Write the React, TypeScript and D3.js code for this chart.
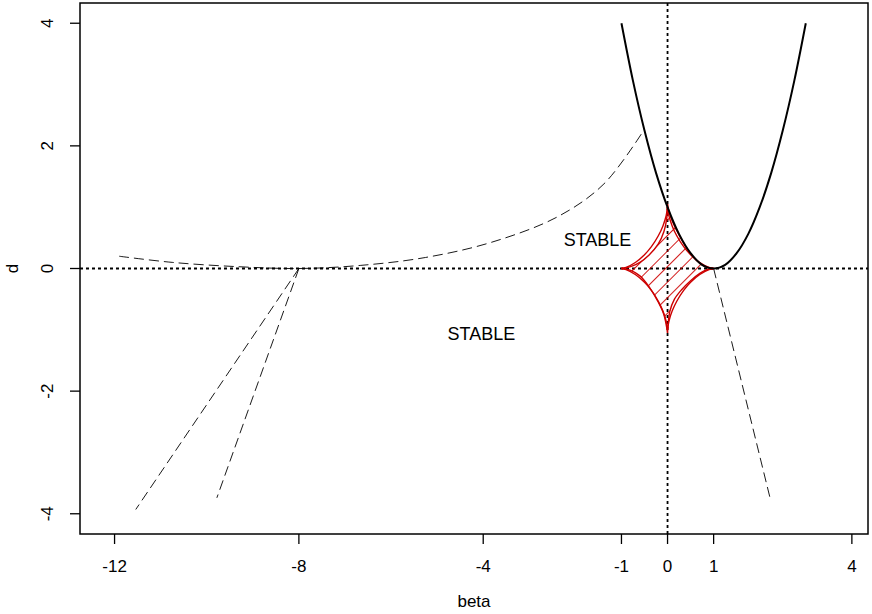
import React from "react";
import * as d3 from "d3";

// parabola d = (beta - 1)^2
const paraBeta = [-1, -0.75, -0.5, -0.25, 0, 0.25, 0.5, 0.75, 1, 1.25, 1.5, 1.75, 2, 2.25, 2.5, 2.75, 3];
const paraD = [4, 3.06, 2.25, 1.56, 1, 0.56, 0.25, 0.06, 0, 0.06, 0.25, 0.56, 1, 1.56, 2.25, 3.06, 4];

// long dashed curve
const dashBeta = [-11.9, -10.75, -9.33, -8, -6.67, -5.25, -3.81, -2.37, -1.38, -0.52];
const dashD = [0.2, 0.1, 0.03, 0, 0.05, 0.18, 0.43, 0.85, 1.38, 2.25];

// straight dashed lines [beta0, d0, beta1, d1]
const rays = [
  [-8, 0, -11.54, -3.93],
  [-8, 0, -9.78, -3.74],
  [1, 0, 2.24, -3.79],
];

// red hatched region, outline (beta, d)
const regionBeta = [-1, -0.8, -0.6, -0.4, -0.2, -0.08, -0.02, 0, 0.02, 0.1, 0.2, 0.35, 0.5, 0.7, 0.85, 1,
  0.85, 0.7, 0.5, 0.3, 0.15, 0.05, 0, -0.08, -0.2, -0.4, -0.6, -0.8, -1];
const regionD = [0, 0.03, 0.1, 0.22, 0.4, 0.6, 0.8, 1.05, 0.96, 0.78, 0.62, 0.41, 0.24, 0.085, 0.02, 0,
  -0.02, -0.08, -0.2, -0.35, -0.5, -0.7, -1.05, -0.75, -0.55, -0.3, -0.12, -0.03, 0];

// second red outline, one quadrant, mirrored into four
const astBeta = [0, 0.03, 0.1, 0.2, 0.35, 0.5, 0.7, 0.9, 1];
const astD = [1, 0.86, 0.695, 0.534, 0.357, 0.225, 0.098, 0.018, 0];

const xTicks = [-12, -8, -4, -1, 0, 1, 4];
const yTicks = [-4, -2, 0, 2, 4];

const labels = [
  { text: "STABLE", beta: -1.52, d: 0.46 },
  { text: "STABLE", beta: -4.04, d: -1.07 },
];

export default function App() {
  const width = 872;
  const height = 614;
  const left = 80, right = 868, top = 3, bottom = 534;
  const red = "#cd0000";
  const font = "'Liberation Sans', Arial, Helvetica, sans-serif";

  const x = d3.scaleLinear().domain([-12.75, 4.35]).range([left, right]);
  const y = d3.scaleLinear().domain([-4.33, 4.33]).range([bottom, top]);

  const smooth = d3.line<[number, number]>()
    .x(p => x(p[0])).y(p => y(p[1]))
    .curve(d3.curveCatmullRom);
  const straight = d3.line<[number, number]>()
    .x(p => x(p[0])).y(p => y(p[1]));

  const para: [number, number][] = paraBeta.map((b, i) => [b, paraD[i]]);
  const dash: [number, number][] = dashBeta.map((b, i) => [b, dashD[i]]);
  const region: [number, number][] = regionBeta.map((b, i) => [b, regionD[i]]);

  // region outline drawn as four smooth pieces so the cusps stay sharp
  const cuspIdx = [0, 7, 15, 22, 28];
  const regionPieces = cuspIdx.slice(0, 4).map((s, k) => region.slice(s, cuspIdx[k + 1] + 1));
  const quads = [[1, 1], [-1, 1], [-1, -1], [1, -1]];
  const astPieces = quads.map(([sx, sy]) =>
    astBeta.map((b, i) => [sx * b, sy * astD[i]] as [number, number]));

  return (
    <svg width={width} height={height} style={{ position: "absolute", left: 0, top: 0, background: "#fff" }}>
      <defs>
        <clipPath id="plot">
          <rect x={left} y={top} width={right - left} height={bottom - top} />
        </clipPath>
        <clipPath id="region">
          <path d={straight(region) + "Z"} />
        </clipPath>
        <pattern id="hatch" patternUnits="userSpaceOnUse" width={11} height={11} patternTransform="rotate(45)">
          <line x1={0} y1={-1} x2={0} y2={12} stroke={red} strokeWidth={1.8} />
        </pattern>
      </defs>

      <g clipPath="url(#plot)">
        {/* dotted reference lines */}
        <line x1={left} x2={right} y1={y(0)} y2={y(0)} stroke="#000" strokeWidth={1.8} strokeDasharray="3,3" />
        <line x1={x(0)} x2={x(0)} y1={top} y2={bottom} stroke="#000" strokeWidth={1.8} strokeDasharray="3,3" />

        {/* dashed curves */}
        <path d={smooth(dash) ?? ""} fill="none" stroke="#000" strokeWidth={0.9} strokeDasharray="10,5" />
        {rays.map((r, i) => (
          <path key={i} d={straight([[r[0], r[1]], [r[2], r[3]]]) ?? ""} fill="none"
            stroke="#000" strokeWidth={0.9} strokeDasharray="10,5" />
        ))}

        {/* hatched region */}
        <rect x={x(-1.1)} y={y(1.2)} width={x(1.1) - x(-1.1)} height={y(-1.2) - y(1.2)}
          fill="url(#hatch)" clipPath="url(#region)" />
        {regionPieces.map((p, i) => (
          <path key={"r" + i} d={smooth(p) ?? ""} fill="none" stroke={red} strokeWidth={1.4} />
        ))}
        {astPieces.map((p, i) => (
          <path key={"a" + i} d={smooth(p) ?? ""} fill="none" stroke={red} strokeWidth={1.4} />
        ))}

        {/* parabola */}
        <path d={smooth(para) ?? ""} fill="none" stroke="#000" strokeWidth={2} />
      </g>

      {/* labels */}
      {labels.map((l, i) => (
        <text key={i} x={x(l.beta)} y={y(l.d)} textAnchor="middle" dominantBaseline="central"
          fontFamily={font} fontSize={18}>{l.text}</text>
      ))}

      {/* box */}
      <rect x={left} y={top} width={right - left} height={bottom - top} fill="none" stroke="#000" strokeWidth={1.5} />

      {/* x axis */}
      {xTicks.map(t => (
        <g key={t}>
          <line x1={x(t)} x2={x(t)} y1={bottom} y2={bottom + 10} stroke="#000" strokeWidth={1.3} />
          <text x={x(t)} y={566} textAnchor="middle" dominantBaseline="central" fontFamily={font} fontSize={17}>{t}</text>
        </g>
      ))}
      <text x={(left + right) / 2} y={601} textAnchor="middle" dominantBaseline="central" fontFamily={font} fontSize={17}>beta</text>

      {/* y axis */}
      {yTicks.map(t => (
        <g key={t}>
          <line x1={left - 10} x2={left} y1={y(t)} y2={y(t)} stroke="#000" strokeWidth={1.3} />
          <text transform={`translate(47,${y(t)}) rotate(-90)`} textAnchor="middle" dominantBaseline="central"
            fontFamily={font} fontSize={17}>{t}</text>
        </g>
      ))}
      <text transform={`translate(12,${(top + bottom) / 2}) rotate(-90)`} textAnchor="middle" dominantBaseline="central"
        fontFamily={font} fontSize={17}>d</text>
    </svg>
  );
}
